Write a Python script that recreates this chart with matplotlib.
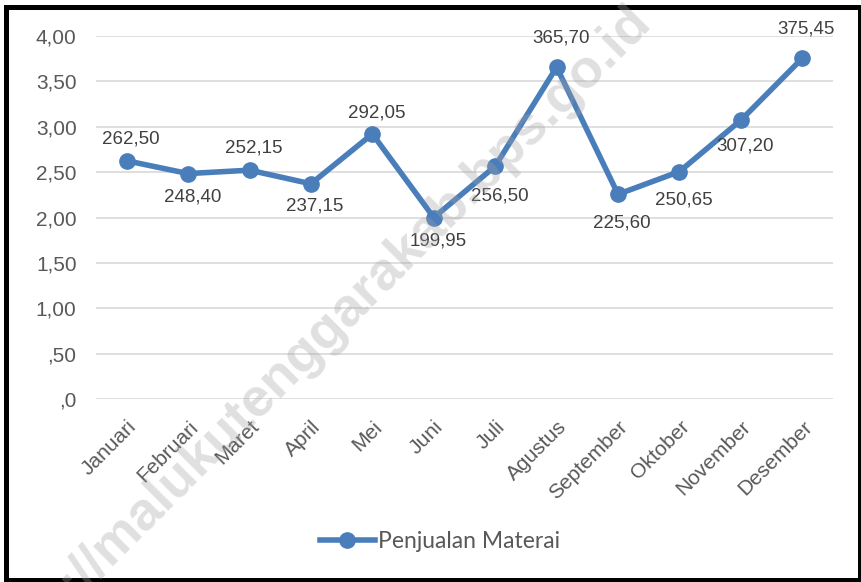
import matplotlib
matplotlib.use("Agg")
import matplotlib.pyplot as plt
from matplotlib.patches import Rectangle

# data
bulan = ["Januari", "Februari", "Maret", "April", "Mei", "Juni", "Juli",
         "Agustus", "September", "Oktober", "November", "Desember"]
penjualan = [262.50, 248.40, 252.15, 237.15, 292.05, 199.95, 256.50,
             365.70, 225.60, 250.65, 307.20, 375.45]
y_ticks = [0, 0.5, 1.0, 1.5, 2.0, 2.5, 3.0, 3.5, 4.0]
y_ticklabels = [",0", ",50", "1,00", "1,50", "2,00", "2,50", "3,00", "3,50", "4,00"]

# posisi label data (offset vertikal dalam px, negatif = di bawah)
label_dy = [22, -23, 22, -22, 21, -23, -30, 29, -29, -28, -26, 29]

W, H = 862, 582
fig = plt.figure(figsize=(W / 100, H / 100), dpi=100)
ax = fig.add_axes([96 / W, 1 - 399 / H, (833 - 96) / W, (399 - 36) / H])

x = list(range(len(bulan)))
y = [v / 100 for v in penjualan]
warna = "#4a7ebb"
ax.plot(x, y, color=warna, lw=4, marker="o", ms=11, label="Penjualan Materai", zorder=3)

for xi, yi, v, dy in zip(x, y, penjualan, label_dy):
    teks = f"{v:.2f}".replace(".", ",")
    ax.annotate(teks, (xi, yi), xytext=(3, dy * 0.72), textcoords="offset points",
                ha="center", va="center", fontsize=13.5, color="#404040",
                family="Liberation Sans", zorder=4)

ax.set_xlim(-0.5, len(bulan) - 0.5)
ax.set_ylim(0, 4.0)
ax.set_yticks(y_ticks)
ax.set_yticklabels(y_ticklabels, family="Liberation Sans", fontsize=15, color="#595959")
ax.set_xticks(x)
ax.set_xticklabels(bulan, rotation=45, ha="right", va="top", rotation_mode="anchor",
                   family="Liberation Sans", fontsize=15, color="#595959")
ax.tick_params(axis="both", length=0)
ax.tick_params(axis="y", pad=14)
ax.tick_params(axis="x", pad=13)
ax.grid(axis="y", color="#d9d9d9", lw=1.2)
ax.set_axisbelow(True)
for s in ax.spines.values():
    s.set_visible(False)

leg = fig.legend(loc="center", bbox_to_anchor=(440 / W, 1 - 542 / H), frameon=False,
                 prop={"family": "Lato", "size": 16.5}, handlelength=2.4, handletextpad=0.15)
for t in leg.get_texts():
    t.set_color("#595959")

# watermark
fig.text(354 / W, 1 - 300 / H, "://malukutenggarakab.bps.go.id", rotation=45,
         rotation_mode="anchor", ha="center", va="center", fontsize=39,
         fontweight="bold", family="Liberation Sans", color="#a0a0a0", alpha=0.33, zorder=10)

# bingkai
fig.patches.append(Rectangle((6.5 / W, 2.5 / H), (860 - 6.5) / W, (575 - 2.5) / H,
                             transform=fig.transFigure, fill=False, ec="black", lw=3.6))

fig.savefig("out.png", dpi=100)
